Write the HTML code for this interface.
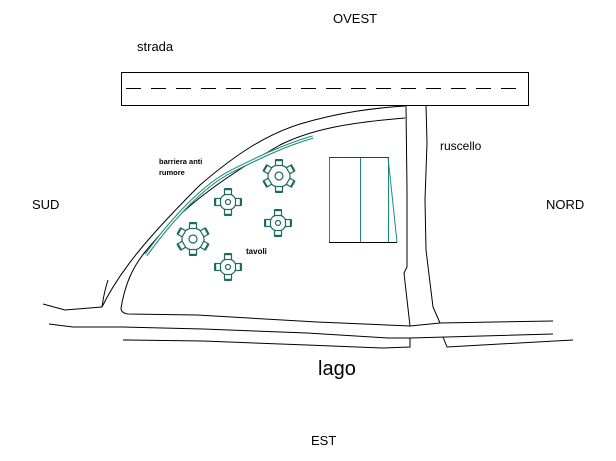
<!DOCTYPE html>
<html><head><meta charset="utf-8"><style>
html,body{margin:0;padding:0;background:#fff;width:616px;height:461px;overflow:hidden}
svg{display:block}
text{font-family:"Liberation Sans",sans-serif;fill:#000}
</style></head><body>
<svg id="plan" width="616" height="461" viewBox="0 0 616 461" xmlns="http://www.w3.org/2000/svg">
<g fill="none" stroke="#000" stroke-width="1">
<rect x="121.5" y="72.5" width="407" height="33"/>
<line x1="126" y1="88.5" x2="525" y2="88.5" stroke-dasharray="15,10"/>
<path d="M108,280 C104,292 103,300 102,307 M102,307 C120,270 150,235 200,185 C235,155 265,135 300,124 C340,112 375,108 405,106"/>
<path d="M121,308 C125,285 132,268 145,252 C175,215 210,185 280,145 C310,130 345,123 405,118"/>
<path d="M43,304 L65,310 L102,307"/>
<path d="M121,308 Q121,313 128,314 L197,315 L317,322 L410,326 L440,323 L553,321"/>
<path d="M49,324 L73,327 L122,327 L203,329 L307,333 L388,338 L410,338 L553,334"/>
<path d="M123,340 L203,341 L307,345 L383,348 L410,347 L410,338 M443,337 L447,347 L573,340"/>
<path d="M406,106 L407,190 L407,267 L404,273 L410,326"/>
<path d="M426,105 L427,143 L425,200 L426,250 L433,307 L440,323"/>
</g>
<g fill="none" stroke-width="1">
<line x1="329.5" y1="157" x2="329.5" y2="242" stroke="#1a8a80"/>
<line x1="360.5" y1="157" x2="360.5" y2="242" stroke="#1a8a80"/>
<line x1="388.5" y1="157" x2="388.5" y2="242" stroke="#1a8a80"/>
<line x1="388" y1="157" x2="397" y2="242" stroke="#1a8a80"/>
<line x1="329" y1="157.5" x2="389" y2="157.5" stroke="#a01010"/>
<line x1="329" y1="242.5" x2="397" y2="242.5" stroke="#000"/>
</g>
<path d="M146,255 C175,215 205,185 230,172 C260,157 285,145 313,137" fill="none" stroke="#1a8a80" stroke-width="3.5"/>
<path d="M146,255 C175,215 205,185 230,172 C260,157 285,145 313,137" fill="none" stroke="#fff" stroke-width="1.3"/>
<g id="tables"></g>
<text x="333" y="23" font-size="13">OVEST</text>
<text x="137" y="51" font-size="13">strada</text>
<text x="32" y="209" font-size="13">SUD</text>
<text x="546" y="209" font-size="13">NORD</text>
<text x="440" y="150" font-size="12">ruscello</text>
<text x="159" y="164" font-size="7.5" font-weight="bold">barriera anti</text>
<text x="159" y="175" font-size="7.5" font-weight="bold">rumore</text>
<text x="246" y="254" font-size="8" font-weight="bold">tavoli</text>
<text x="318" y="375" font-size="20">lago</text>
<text x="311" y="445" font-size="13">EST</text>
</svg>
<script>
const tableX=[279,228,278,193,228];
const tableY=[176,202,223,239,267];
const tableBig=[1,0,0,1,0];
const NS="http://www.w3.org/2000/svg";
const g=document.getElementById('tables');
function mk(tag,attrs,parent){const e=document.createElementNS(NS,tag);for(const k in attrs)e.setAttribute(k,attrs[k]);parent.appendChild(e);return e;}
for(let i=0;i<tableX.length;i++){
  const t=mk('g',{transform:'translate('+tableX[i]+','+tableY[i]+')',fill:'none',stroke:'#1f6a60','stroke-width':'1.2'},g);
  
  
  const big=tableBig[i];
  const r=big?11:8;
  mk('circle',{r:r},t);
  mk('circle',{r:big?4:2.5},t);
  const d=big?13:10;
  const angs=big?[0,60,120,180,240,300]:[0,90,180,270];
  for(const a of angs){
    const c=mk('g',{transform:'rotate('+a+') translate(0,'+(-d)+')'},t);
    mk('rect',{x:-3.5,y:-3,width:7,height:5.5,fill:'#fff'},c);
    mk('rect',{x:-3.5,y:-4,width:7,height:2.2,fill:'#1f6a60',stroke:'none'},c);
  }
}
</script>
</body></html>
